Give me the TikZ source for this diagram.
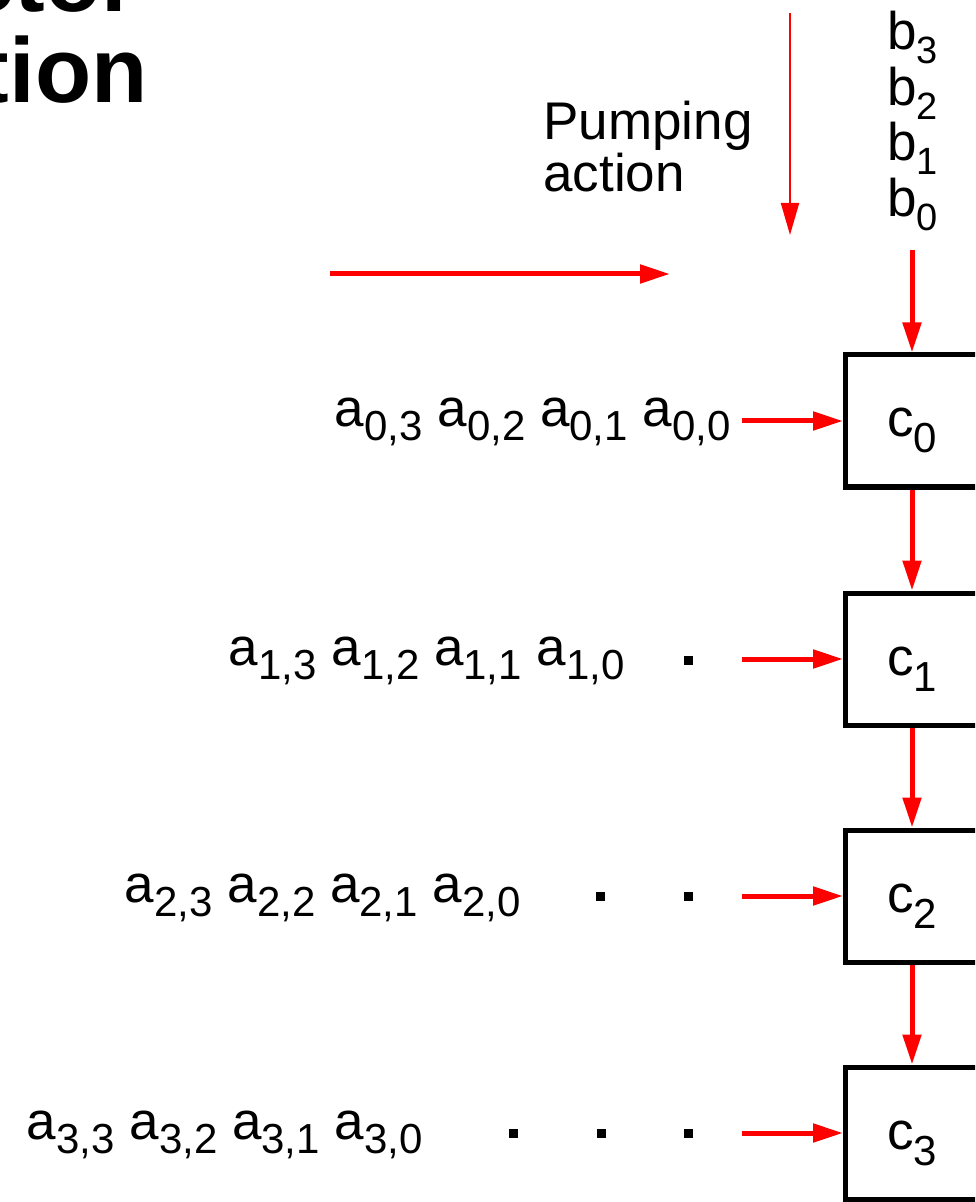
\documentclass[tikz,border=0pt]{standalone}
\usepackage{fontspec}
\setmainfont{Liberation Sans}
\usetikzlibrary{arrows.meta}
\definecolor{pumpred}{RGB}{255,0,0}
\newcommand{\bsub}[1]{\raisebox{-7pt}{\fontsize{19}{19}\selectfont #1}}
\newcommand{\asub}[1]{\raisebox{-7pt}{\fontsize{21}{21}\selectfont #1}}
\newcommand{\csub}[1]{\raisebox{-8pt}{\fontsize{21}{21}\selectfont #1}}
\begin{document}
\begin{tikzpicture}[x=0.5pt, y=-0.5pt,
  cell/.style={draw=black, line width=2.5pt, minimum width=66.5pt, minimum height=66pt,
    inner sep=0pt, font=\fontsize{26.5}{26.5}\selectfont, text height=16pt, text depth=0pt},
  flow/.style={draw=pumpred, line width=2.5pt, -{Triangle[length=15pt,width=9pt]}},
  thinflow/.style={draw=pumpred, line width=1pt, -{Triangle[length=16pt,width=9pt]}},
  lbl/.style={inner sep=0pt, font=\fontsize{26.5}{26.5}\selectfont},
  ttl/.style={inner sep=0pt, font=\fontsize{46}{46}\selectfont\bfseries},
  dotmark/.style={fill=black, minimum size=4.5pt, inner sep=0pt}]
\useasboundingbox (0,0) rectangle (975,1202);
\clip (0,0) rectangle (975,1202);

% title fragments
\node[ttl, anchor=base east] (t1) at (138,12) {ector};
\node[ttl, anchor=base east] (t2) at (148,103) {ation};

% pumping action
\node[lbl, align=left, anchor=north west, font=\fontsize{26.5}{26}\selectfont] (pump) at (543,101) {Pumping\\action};
\coordinate (pv1) at (790,13);
\coordinate (pv2) at (790,235);
\draw[thinflow] (pv1) -- (pv2);
\coordinate (ph1) at (330,274);
\coordinate (ph2) at (670,274);
\draw[flow] (ph1) -- (ph2);

% b column
\node[lbl, anchor=base west] (b3) at (887,50) {b\bsub{3}};
\node[lbl, anchor=base west] (b2) at (887,106) {b\bsub{2}};
\node[lbl, anchor=base west] (b1) at (887,161) {b\bsub{1}};
\node[lbl, anchor=base west] (b0) at (887,217) {b\bsub{0}};
\coordinate (bin) at (912,250);

% cells
\node[cell] (c0) at (912,421) {c\csub{0}};
\node[cell] (c1) at (912,659) {c\csub{1}};
\node[cell] (c2) at (912,896) {c\csub{2}};
\node[cell] (c3) at (912,1133) {c\csub{3}};

\draw[flow] (bin) -- (c0.north);
\draw[flow] (c0.south) -- (c1.north);
\draw[flow] (c1.south) -- (c2.north);
\draw[flow] (c2.south) -- (c3.north);

% a rows
\node[lbl, anchor=base east] (a0) at (731,427) {a\asub{0,3} a\asub{0,2} a\asub{0,1} a\asub{0,0}};
\node[lbl, anchor=base east] (a1) at (625,665) {a\asub{1,3} a\asub{1,2} a\asub{1,1} a\asub{1,0}};
\node[lbl, anchor=base east] (a2) at (521,902) {a\asub{2,3} a\asub{2,2} a\asub{2,1} a\asub{2,0}};
\node[lbl, anchor=base east] (a3) at (423,1139) {a\asub{3,3} a\asub{3,2} a\asub{3,1} a\asub{3,0}};

% placeholder dots
\node[dotmark] (d10) at (688,660) {};
\node[dotmark] (d20) at (600,896) {};
\node[dotmark] (d21) at (688,896) {};
\node[dotmark] (d30) at (513,1133) {};
\node[dotmark] (d31) at (601,1133) {};
\node[dotmark] (d32) at (688,1133) {};

% inputs
\coordinate (in0) at (742,421);
\coordinate (in1) at (742,659);
\coordinate (in2) at (742,896);
\coordinate (in3) at (742,1133);
\draw[flow] (in0) -- (c0.west);
\draw[flow] (in1) -- (c1.west);
\draw[flow] (in2) -- (c2.west);
\draw[flow] (in3) -- (c3.west);
\end{tikzpicture}
\end{document}
